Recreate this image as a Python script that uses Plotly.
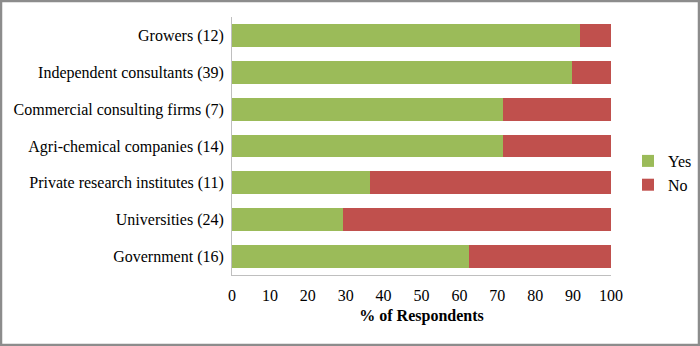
import plotly.graph_objects as go

categories = ["Growers (12)", "Independent consultants (39)", "Commercial consulting firms (7)",
              "Agri-chemical companies (14)", "Private research institutes (11)",
              "Universities (24)", "Government (16)"]
yes_vals = [91.7, 89.7, 71.4, 71.4, 36.4, 29.2, 62.5]
no_vals = [8.3, 10.3, 28.6, 28.6, 63.6, 70.8, 37.5]
x_ticks = list(range(0, 101, 10))

font_family = "Liberation Serif, Times New Roman, serif"

fig = go.Figure()
fig.add_trace(go.Bar(y=categories, x=yes_vals, name="Yes", orientation="h",
                     marker=dict(color="#9BBB59", line=dict(width=0))))
fig.add_trace(go.Bar(y=categories, x=no_vals, name="No", orientation="h",
                     marker=dict(color="#C0504D", line=dict(width=0))))

L, R, T, B = 232, 89, 17, 71
PW, PH = 700 - L - R, 346 - T - B

fig.update_layout(
    barmode="stack",
    bargap=0.38,
    width=700, height=346,
    margin=dict(l=L, r=R, t=T, b=B, autoexpand=False),
    paper_bgcolor="white", plot_bgcolor="white",
    font=dict(family=font_family, size=16, color="#000000"),
    legend=dict(x=(628 - L) / PW, y=(346 - B - 173) / PH,
                xanchor="left", yanchor="middle", traceorder="normal",
                font=dict(size=16), itemwidth=30, tracegroupgap=0,
                bgcolor="rgba(0,0,0,0)"),
    xaxis=dict(range=[0, 100], tickvals=x_ticks, showgrid=False,
               showline=True, linecolor="#BFBFBF", linewidth=1,
               ticks="", zeroline=False, ticklabelstandoff=6,
               title=dict(text="<b>% of Respondents</b>", font=dict(size=16), standoff=6),
               tickfont=dict(size=16)),
    yaxis=dict(autorange="reversed", showline=True, linecolor="#BFBFBF", linewidth=1,
               ticks="", showgrid=False, tickfont=dict(size=16), ticklabelstandoff=4),
    shapes=[dict(type="rect", xref="paper", yref="paper",
                 x0=-(L - 1) / PW, x1=1 + (R - 1) / PW, y0=-(B - 1) / PH, y1=1 + (T - 1) / PH,
                 line=dict(color="#8C8C8C", width=2.5), fillcolor="rgba(0,0,0,0)")],
)

fig.write_html("out.html", post_script="document.body.style.margin='0';",
               config={"displayModeBar": False})
